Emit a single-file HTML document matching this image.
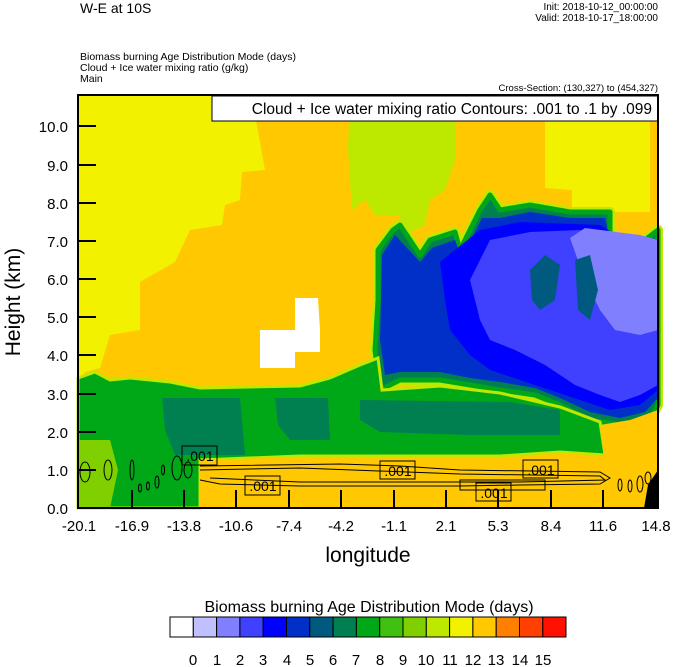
<!DOCTYPE html>
<html><head><style>
body{margin:0;background:#fff;}
svg{display:block;font-family:"Liberation Sans",Arial,sans-serif;}
</style></head><body>
<svg width="674" height="667" viewBox="0 0 674 667" xmlns="http://www.w3.org/2000/svg">
<text x="80" y="13" font-size="14">W-E at 10S</text>
<text x="658" y="10" font-size="10" text-anchor="end">Init: 2018-10-12_00:00:00</text>
<text x="658" y="21" font-size="10" text-anchor="end">Valid: 2018-10-17_18:00:00</text>
<text x="80" y="60" font-size="10.5">Biomass burning Age Distribution Mode    (days)</text>
<text x="80" y="71" font-size="10.5">Cloud + Ice water mixing ratio    (g/kg)</text>
<text x="80" y="82" font-size="10.5">Main</text>
<text x="658" y="91" font-size="9.5" text-anchor="end">Cross-Section: (130,327) to (454,327)</text>

<g>
<rect x="78" y="95" width="580" height="413" fill="#f2f200"/>
<polygon fill="#ffc800" points="256,120 265,170 242,172 240,200 225,205 222,225 190,230 175,262 140,282 140,330 110,335 100,368 85,372 78,380 78,508 658,508 658,95 256,95"/>
<polygon fill="#bde800" points="350,95 455,95 455,160 445,190 430,200 425,225 410,232 398,215 375,215 365,200 352,210 348,150"/>
<polygon fill="#f2f200" points="545,95 650,95 650,212 572,212 572,190 545,188"/>
<!-- blue region -->
<polygon fill="#bde800" stroke="#bde800" stroke-width="10" stroke-linejoin="round" points="378,250 393,230 400,225 420,255 430,240 455,232 460,250 480,210 490,195 500,210 530,205 570,212 610,212 610,235 625,245 645,240 658,230 658,405 650,420 620,425 590,420 560,405 535,395 500,390 470,385 440,380 400,380 380,390 375,350 378,300"/>
<polygon fill="#008050" stroke="#00a818" stroke-width="5" stroke-linejoin="round" points="378,250 393,230 400,225 420,255 430,240 455,232 460,250 480,210 490,195 500,210 530,205 570,212 610,212 610,235 625,245 645,240 658,230 658,405 650,420 620,425 590,420 560,405 535,395 500,390 470,385 440,380 400,380 380,390 375,350 378,300"/>
<polygon fill="#0030c8" points="382,255 395,235 420,262 432,248 455,240 462,258 482,218 500,218 530,212 570,218 605,218 610,240 625,250 645,246 658,240 658,398 645,412 620,418 590,412 560,398 535,388 500,382 470,378 440,372 400,372 385,375 380,340"/>
<polygon fill="#0000ff" points="440,262 455,250 480,230 520,222 600,225 640,250 658,250 658,390 640,405 610,410 580,400 550,390 520,380 490,370 470,355 450,330 445,300"/>
<polygon fill="#4040ff" points="470,280 490,240 530,232 580,230 620,240 658,250 658,385 640,395 620,402 600,395 575,385 545,365 515,350 490,340 480,320"/>
<polygon fill="#8080ff" points="570,238 585,228 640,235 658,240 658,330 640,335 615,330 600,310 585,280"/>
<polygon fill="#005a80" points="530,270 545,255 560,265 555,300 540,310 532,300"/>
<polygon fill="#005a80" points="575,260 590,255 598,290 590,320 578,310"/>
<!-- green band -->
<polygon fill="#00a818" stroke="#bde800" stroke-width="3" points="78,378 95,372 110,380 130,378 170,382 200,388 300,386 330,378 360,365 378,358 382,390 440,386 500,393 560,407 600,422 605,455 560,452 500,456 440,456 380,456 300,456 200,460 200,508 78,508"/>
<polygon fill="#008050" points="162,398 240,398 245,455 175,455 165,430"/>
<polygon fill="#008050" points="275,398 328,398 330,440 290,440 278,425"/>
<polygon fill="#008050" points="360,400 510,402 560,410 560,435 470,435 380,432 360,420"/>
<polygon fill="#80d000" points="78,440 110,440 118,470 110,508 78,508"/>
<polygon fill="#ffc800" points="200,460 300,457 380,457 500,458 560,453 605,456 658,470 658,508 200,508"/>
<polygon fill="#ffc800" points="600,425 630,420 658,410 658,470 605,460"/>
<polygon fill="#ffffff" points="295,298 318,298 320,330 320,352 295,352 295,368 260,368 260,330 295,330"/>
<polygon fill="#000" points="648,485 658,470 658,508 644,508"/>
<!-- contours -->
<g fill="none" stroke="#000" stroke-width="1">
<path d="M200,466 L340,464 L400,466 L460,470 L600,472 L610,478 L600,484 L520,485 L460,486 L300,486 L220,484 L200,480"/>
<path d="M200,470 L300,468 L460,474 L600,476 L605,480 L520,482 L300,482 L210,478"/>
<path d="M460,480 L545,480 L545,490 L460,490 Z"/>
<ellipse cx="85" cy="472" rx="5" ry="10"/><ellipse cx="108" cy="470" rx="4" ry="10"/>
<ellipse cx="132" cy="470" rx="2" ry="10"/><ellipse cx="140" cy="488" rx="1.5" ry="4"/>
<ellipse cx="148" cy="486" rx="1.5" ry="4"/><ellipse cx="157" cy="482" rx="2" ry="6"/>
<ellipse cx="163" cy="470" rx="1.5" ry="5"/><ellipse cx="177" cy="468" rx="5" ry="12"/>
<ellipse cx="188" cy="470" rx="4" ry="8"/><ellipse cx="620" cy="485" rx="2" ry="6"/>
<ellipse cx="630" cy="486" rx="2" ry="6"/><ellipse cx="640" cy="484" rx="3" ry="8"/>
<ellipse cx="648" cy="478" rx="3" ry="6"/>
</g>
<g font-size="14" text-anchor="middle">
<rect x="182" y="446" width="35" height="19" fill="none" stroke="#000"/><text x="200" y="461">.001</text>
<rect x="245" y="476" width="35" height="19" fill="none" stroke="#000"/><text x="263" y="491">.001</text>
<rect x="380" y="461" width="35" height="18" fill="none" stroke="#000"/><text x="398" y="476">.001</text>
<rect x="476" y="483" width="35" height="18" fill="none" stroke="#000"/><text x="494" y="498">.001</text>
<rect x="523" y="460" width="35" height="18" fill="none" stroke="#000"/><text x="541" y="475">.001</text>
</g>
</g>
<rect x="212" y="96" width="446" height="25" fill="#fff" stroke="#000" stroke-width="1"/>
<text x="652" y="114" font-size="15.5" text-anchor="end">Cloud + Ice water mixing ratio Contours: .001 to .1 by .099</text>
<rect x="78" y="95" width="580" height="413" fill="none" stroke="#000" stroke-width="2"/>
<g stroke="#000" stroke-width="2">
<line x1="78" y1="470" x2="96" y2="470"/><line x1="78" y1="432" x2="96" y2="432"/>
<line x1="78" y1="394" x2="96" y2="394"/><line x1="78" y1="355" x2="96" y2="355"/>
<line x1="78" y1="317" x2="96" y2="317"/><line x1="78" y1="279" x2="96" y2="279"/>
<line x1="78" y1="241" x2="96" y2="241"/><line x1="78" y1="203" x2="96" y2="203"/>
<line x1="78" y1="165" x2="96" y2="165"/><line x1="78" y1="126" x2="96" y2="126"/>
<line x1="132" y1="508" x2="132" y2="490"/><line x1="184" y1="508" x2="184" y2="490"/>
<line x1="236" y1="508" x2="236" y2="490"/><line x1="289" y1="508" x2="289" y2="490"/>
<line x1="341" y1="508" x2="341" y2="490"/><line x1="394" y1="508" x2="394" y2="490"/>
<line x1="446" y1="508" x2="446" y2="490"/><line x1="498" y1="508" x2="498" y2="490"/>
<line x1="551" y1="508" x2="551" y2="490"/><line x1="603" y1="508" x2="603" y2="490"/>
</g>
<g font-size="15" text-anchor="end">
<text x="68" y="514">0.0</text><text x="68" y="476">1.0</text><text x="68" y="438">2.0</text>
<text x="68" y="400">3.0</text><text x="68" y="361">4.0</text><text x="68" y="323">5.0</text>
<text x="68" y="285">6.0</text><text x="68" y="247">7.0</text><text x="68" y="209">8.0</text>
<text x="68" y="171">9.0</text><text x="68" y="132">10.0</text>
</g>
<g font-size="15" text-anchor="middle">
<text x="79" y="531">-20.1</text><text x="132" y="531">-16.9</text><text x="184" y="531">-13.8</text>
<text x="236" y="531">-10.6</text><text x="289" y="531">-7.4</text><text x="341" y="531">-4.2</text>
<text x="394" y="531">-1.1</text><text x="446" y="531">2.1</text><text x="498" y="531">5.3</text>
<text x="551" y="531">8.4</text><text x="603" y="531">11.6</text><text x="656" y="531">14.8</text>
</g>
<text x="368" y="562" font-size="21" text-anchor="middle">longitude</text>
<text transform="translate(20,302) rotate(-90)" font-size="21" text-anchor="middle">Height (km)</text>
<text x="369" y="612" font-size="16" text-anchor="middle">Biomass burning Age Distribution Mode  (days)</text>
<g stroke="#000" stroke-width="1">
<rect x="170" y="617" width="23.3" height="20" fill="#ffffff"/>
<rect x="193.3" y="617" width="23.3" height="20" fill="#c0c0ff"/>
<rect x="216.6" y="617" width="23.3" height="20" fill="#8080ff"/>
<rect x="239.9" y="617" width="23.3" height="20" fill="#4040ff"/>
<rect x="263.2" y="617" width="23.3" height="20" fill="#0000ff"/>
<rect x="286.5" y="617" width="23.3" height="20" fill="#0030c8"/>
<rect x="309.8" y="617" width="23.3" height="20" fill="#005a80"/>
<rect x="333.1" y="617" width="23.3" height="20" fill="#008050"/>
<rect x="356.4" y="617" width="23.3" height="20" fill="#00a818"/>
<rect x="379.7" y="617" width="23.3" height="20" fill="#40c010"/>
<rect x="403" y="617" width="23.3" height="20" fill="#80d000"/>
<rect x="426.3" y="617" width="23.3" height="20" fill="#bde800"/>
<rect x="449.6" y="617" width="23.3" height="20" fill="#f2f200"/>
<rect x="472.9" y="617" width="23.3" height="20" fill="#ffc800"/>
<rect x="496.2" y="617" width="23.3" height="20" fill="#ff8000"/>
<rect x="519.5" y="617" width="23.3" height="20" fill="#ff4000"/>
<rect x="542.8" y="617" width="23.2" height="20" fill="#ff1000"/>
</g>
<g font-size="15" text-anchor="middle">
<text x="193" y="665">0</text><text x="217" y="665">1</text><text x="240" y="665">2</text>
<text x="263" y="665">3</text><text x="287" y="665">4</text><text x="310" y="665">5</text>
<text x="333" y="665">6</text><text x="356" y="665">7</text><text x="380" y="665">8</text>
<text x="403" y="665">9</text><text x="426" y="665">10</text><text x="450" y="665">11</text>
<text x="473" y="665">12</text><text x="496" y="665">13</text><text x="520" y="665">14</text>
<text x="543" y="665">15</text>
</g>
</svg>
</body></html>
